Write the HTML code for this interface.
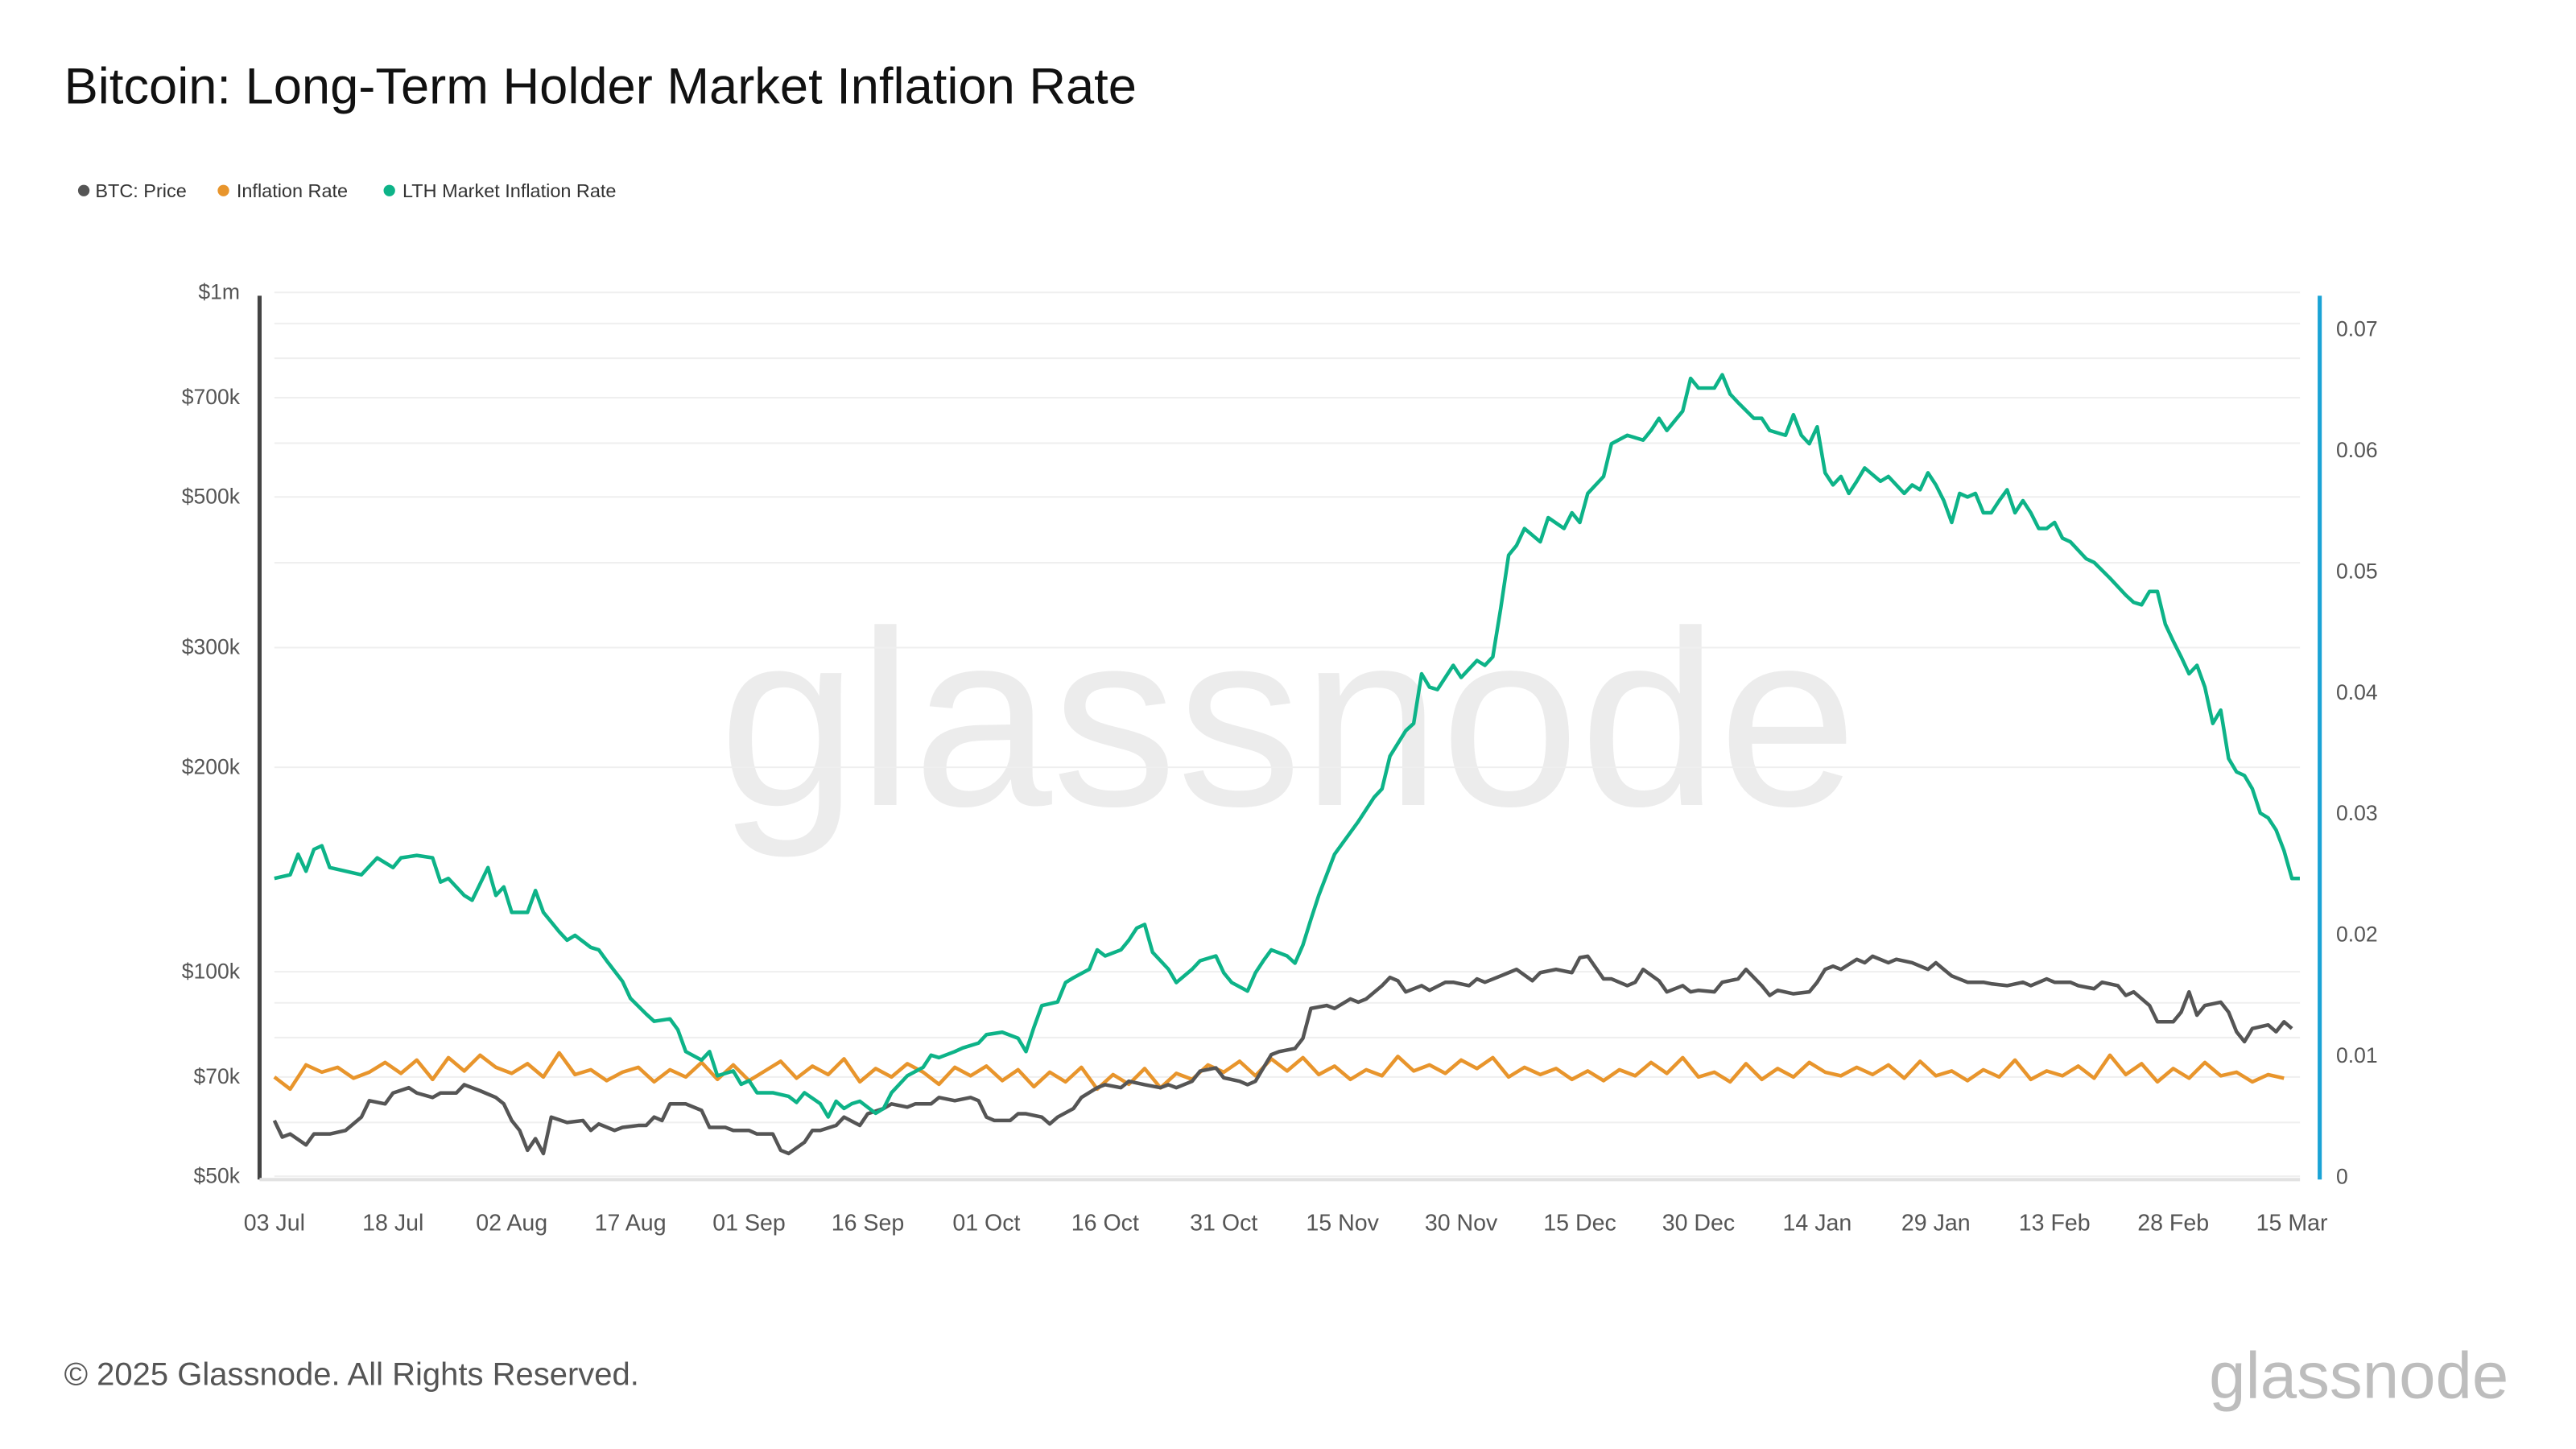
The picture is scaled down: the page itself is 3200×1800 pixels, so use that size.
<!DOCTYPE html>
<html><head><meta charset="utf-8">
<style>
html,body{margin:0;padding:0;background:#fff;}
svg{display:block;font-family:"Liberation Sans",sans-serif;}
</style></head>
<body>
<svg id="chart" width="3200" height="1800" viewBox="0 0 1568 882" xmlns="http://www.w3.org/2000/svg">
<rect width="1568" height="882" fill="#fff"/>
<text x="784" y="490" text-anchor="middle" font-size="152" fill="#ececec" font-weight="400">glassnode</text>
<text x="39" y="63" font-size="31" fill="#111">Bitcoin: Long-Term Holder Market Inflation Rate</text>
<g font-size="11.5" fill="#333">
 <g><circle cx="51" cy="116" r="3.5" fill="#555"/><text x="58" y="120">BTC: Price</text></g>
 <g><circle cx="136" cy="116" r="3.5" fill="#e8952c"/><text x="144" y="120">Inflation Rate</text></g>
 <g><circle cx="237" cy="116" r="3.5" fill="#0db388"/><text x="245" y="120">LTH Market Inflation Rate</text></g>
</g>
<g id="grid"></g>
<g id="axes"></g>
<g id="series"></g>
<text x="39" y="843" font-size="19.6" fill="#555">© 2025 Glassnode. All Rights Reserved.</text>
<text x="1527" y="851" text-anchor="end" font-size="40" fill="#bdbdbd">glassnode</text>
</svg>
<script>
// ---- data ----
const priceTickValues=[1000,700,500,300,200,100,70,50];
const priceTickLabels=["$1m","$700k","$500k","$300k","$200k","$100k","$70k","$50k"];
const priceGridValues=[1000,900,800,700,600,500,400,300,200,100,90,80,70,60,50];
const rateTickValues=[0,0.01,0.02,0.03,0.04,0.05,0.06,0.07];
const rateTickLabels=["0","0.01","0.02","0.03","0.04","0.05","0.06","0.07"];
const xTickDays=[0,15,30,45,60,75,90,105,120,135,150,165,180,195,210,225,240,255];
const xTickLabels=["03 Jul","18 Jul","02 Aug","17 Aug","01 Sep","16 Sep","01 Oct","16 Oct","31 Oct","15 Nov","30 Nov","15 Dec","30 Dec","14 Jan","29 Jan","13 Feb","28 Feb","15 Mar"];

const lthDays=[0,2,3,4,5,6,7,9,11,13,15,16,18,20,21,22,24,25,27,28,29,30,32,33,34,36,37,38,40,41,42,44,45,47,48,50,51,52,54,55,56,58,59,60,61,63,65,66,67,69,70,71,72,73,74,76,77,78,80,82,83,84,86,87,89,90,92,94,95,96,97,99,100,101,103,104,105,107,108,109,110,111,113,114,116,117,119,120,121,123,124,125,126,128,129,130,131,132,134,136,137,139,140,141,143,144,145,146,147,149,150,152,153,154,155,156,157,158,160,161,163,164,165,166,168,169,171,173,174,175,176,178,179,180,182,183,184,185,187,188,189,191,192,193,194,195,196,197,198,199,200,201,203,204,206,207,208,209,210,211,212,213,214,215,216,217,218,219,220,221,222,223,224,225,226,227,229,230,232,234,235,236,237,238,239,240,241,242,243,244,245,246,247,248,249,250,251,252,253,254,255,256];
const lthValues=[24.6,24.9,26.6,25.2,27.0,27.3,25.5,25.2,24.9,26.3,25.5,26.3,26.5,26.3,24.3,24.6,23.2,22.8,25.5,23.2,23.9,21.8,21.8,23.6,21.8,20.2,19.5,19.9,18.9,18.7,17.8,16.1,14.7,13.4,12.8,13.0,12.1,10.3,9.6,10.3,8.3,8.7,7.6,7.9,6.9,6.9,6.6,6.1,6.9,6.0,4.9,6.2,5.6,6.0,6.2,5.2,5.6,6.9,8.3,9.0,10.0,9.8,10.3,10.6,11.0,11.7,11.9,11.4,10.3,12.3,14.1,14.4,16.0,16.4,17.1,18.7,18.2,18.7,19.5,20.5,20.8,18.5,17.1,16.0,17.1,17.8,18.2,16.8,16.0,15.3,16.8,17.8,18.7,18.2,17.6,19.1,21.2,23.2,26.6,28.4,29.3,31.3,32.0,34.7,36.8,37.4,41.5,40.4,40.2,42.2,41.2,42.6,42.2,42.9,46.9,51.3,52.1,53.5,52.4,54.4,53.5,54.8,54.0,56.4,57.8,60.5,61.2,60.8,61.6,62.6,61.6,63.2,65.9,65.1,65.1,66.2,64.6,63.9,62.6,62.6,61.6,61.2,62.9,61.2,60.5,61.9,58.1,57.1,57.8,56.4,57.4,58.5,57.4,57.8,56.4,57.1,56.7,58.1,57.1,55.8,54.0,56.4,56.1,56.4,54.8,54.8,55.8,56.7,54.8,55.8,54.8,53.5,53.5,54.0,52.7,52.4,51.0,50.7,49.4,48.0,47.4,47.2,48.3,48.3,45.6,44.2,42.9,41.5,42.2,40.4,37.4,38.5,34.5,33.4,33.1,32.0,30.0,29.6,28.6,26.9,24.6,24.6];

const priceDays=[0,1,2,4,5,7,9,11,12,14,15,17,18,20,21,23,24,26,28,29,30,31,32,33,34,35,37,39,40,41,43,44,46,47,48,49,50,52,54,55,57,58,60,61,63,64,65,67,68,69,71,72,74,75,77,78,80,81,83,84,86,88,89,90,91,93,94,95,97,98,99,101,102,104,105,107,108,110,112,113,114,116,117,119,120,122,123,124,126,127,129,130,131,133,134,136,137,138,140,141,142,143,145,146,148,149,151,152,153,155,156,157,159,160,162,164,165,166,168,169,171,172,173,175,176,178,179,180,182,183,185,186,188,189,190,192,194,195,196,197,198,200,201,202,204,205,207,209,210,211,212,214,216,217,219,221,222,224,225,227,228,230,231,233,234,235,237,238,240,241,242,243,244,246,247,248,249,250,252,253,254,255];
const priceValuesK=[60.4,57.1,57.7,55.6,57.7,57.7,58.4,61.1,64.6,63.9,66.3,67.5,66.3,65.3,66.3,66.3,68.2,66.8,65.3,63.9,60.4,58.4,54.6,56.8,54.0,61.1,60.0,60.4,58.4,59.7,58.4,59.0,59.4,59.4,61.1,60.4,63.9,63.9,62.5,59.0,59.0,58.4,58.4,57.7,57.7,54.6,54.0,56.1,58.4,58.4,59.4,61.1,59.4,61.8,62.9,63.9,63.2,63.9,63.9,65.3,64.6,65.3,64.6,61.1,60.4,60.4,61.8,61.8,61.1,59.7,61.1,62.9,65.3,67.5,68.2,67.5,69.0,68.2,67.5,68.2,67.5,69.0,71.4,72.2,69.8,69.0,68.2,69.0,75.5,76.3,77.1,79.8,88.3,89.2,88.3,91.2,90.2,91.2,95.4,98.1,97.0,93.4,95.4,93.9,96.5,96.5,95.4,97.6,96.5,98.6,99.7,100.8,97.0,99.7,100.8,99.7,104.9,105.4,97.6,97.6,95.4,96.5,100.8,97.0,93.4,95.4,93.4,93.9,93.4,96.5,97.6,100.8,95.4,92.3,93.9,92.8,93.4,96.5,100.8,101.9,100.8,104.3,103.1,105.4,103.1,104.3,103.1,100.8,103.1,100.8,98.6,96.5,96.5,96.0,95.4,96.5,95.4,97.6,96.5,96.5,95.4,94.4,96.5,95.4,92.3,93.4,89.2,84.4,84.4,87.2,93.4,86.3,89.2,90.2,87.2,81.6,78.9,82.5,83.5,81.6,84.4,82.5];

const inflValues=[8.2,7.2,9.2,8.6,9.0,8.1,8.6,9.4,8.5,9.6,8.0,9.8,8.7,10.0,9.0,8.5,9.3,8.2,10.2,8.4,8.8,7.9,8.6,9.0,7.8,8.8,8.2,9.4,8.0,9.2,7.9,8.7,9.5,8.1,9.1,8.4,9.7,7.8,8.9,8.2,9.3,8.6,7.6,9.0,8.3,9.1,7.9,8.8,7.4,8.6,7.8,9.0,7.2,8.4,7.6,8.9,7.3,8.5,8.0,9.2,8.6,9.5,8.3,9.7,8.7,9.8,8.4,9.1,8.0,8.8,8.3,9.9,8.7,9.2,8.5,9.6,8.9,9.8,8.2,9.0,8.4,8.9,8.0,8.7,7.9,8.8,8.3,9.4,8.5,9.8,8.2,8.6,7.8,9.3,8.0,8.9,8.2,9.4,8.6,8.3,9.0,8.4,9.2,8.1,9.5,8.3,8.7,7.9,8.8,8.2,9.6,8.0,8.7,8.3,9.1,8.1,10.0,8.4,9.3,7.8,8.9,8.1,9.4,8.3,8.6,7.8,8.4,8.1];
const inflStepDays=2;

// ---- scales ----
const X0=167, PXDAY=4.816;
const xS=d=>X0+d*PXDAY;
const yPrice=k=>178+(Math.log10(1000)-Math.log10(k))*413.5;
const yRate=v=>716-v*7370;

const NS="http://www.w3.org/2000/svg";
function mk(tag,attrs,parent){const e=document.createElementNS(NS,tag);for(const k in attrs)e.setAttribute(k,attrs[k]);parent.appendChild(e);return e;}
const grid=document.getElementById('grid'),axes=document.getElementById('axes'),series=document.getElementById('series');

priceGridValues.forEach(v=>{
  const l=mk('line',{x1:167,x2:1400,y1:yPrice(v),y2:yPrice(v),stroke:'#efefef','stroke-width':1},grid);
  
  
});
priceTickValues.forEach((v,i)=>{
  const t=mk('text',{x:146,y:yPrice(v)+4,'text-anchor':'end','font-size':13,fill:'#555'},axes);
  t.textContent=priceTickLabels[i];
  
  
});
rateTickValues.forEach((v,i)=>{
  const t=mk('text',{x:1422,y:yRate(v)+4.5,'font-size':13,fill:'#555'},axes);
  t.textContent=rateTickLabels[i];
  
  
});
xTickDays.forEach((d,i)=>{
  const t=mk('text',{x:xS(d),y:749,'text-anchor':'middle','font-size':14,fill:'#555'},axes);
  t.textContent=xTickLabels[i];
  
  
});
const la=mk('line',{x1:158,x2:158,y1:180,y2:718,stroke:'#444','stroke-width':2.5},axes);


const ra=mk('line',{x1:1412,x2:1412,y1:180,y2:718,stroke:'#1aa3d6','stroke-width':2.5},axes);


const xa=mk('line',{x1:158,x2:1400,y1:718,y2:718,stroke:'#e2e2e2','stroke-width':2},axes);



function path(pts,color,name){
  const d=pts.map((p,i)=>(i?'L':'M')+p[0].toFixed(2)+' '+p[1].toFixed(2)).join(' ');
  const e=mk('path',{d:d,fill:'none',stroke:color,'stroke-width':2.2,'stroke-linejoin':'round'},series);
  
  
}
path(inflValues.map((v,i)=>[xS(i*inflStepDays),yRate(v/1000)]),'#e8952c','inflation-rate-line');
path(priceDays.map((d,i)=>[xS(d),yPrice(priceValuesK[i])]),'#555555','btc-price-line');
path(lthDays.map((d,i)=>[xS(d),yRate(lthValues[i]/1000)]),'#0db388','lth-inflation-line');
</script>
</body></html>
